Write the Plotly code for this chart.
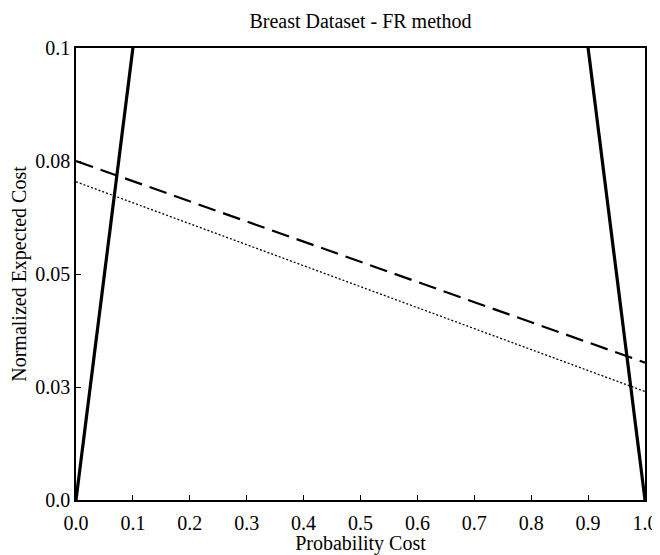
import plotly.graph_objects as go

# Data
x_trivial_pos = [0.0, 1.0]
y_trivial_pos = [0.0, 1.0]      # y = x
x_trivial_neg = [0.0, 1.0]
y_trivial_neg = [1.0, 0.0]      # y = 1 - x
x_dashed = [0.0, 1.0]
y_dashed = [0.075, 0.0304]
x_dotted = [0.0, 1.0]
y_dotted = [0.0704, 0.024]

x_ticks = [0.0, 0.1, 0.2, 0.3, 0.4, 0.5, 0.6, 0.7, 0.8, 0.9, 1.0]
x_ticktext = ["0.0", "0.1", "0.2", "0.3", "0.4", "0.5", "0.6", "0.7", "0.8", "0.9", "1.0"]
y_ticks = [0.0, 0.025, 0.05, 0.075, 0.1]
y_ticktext = ["0.0", "0.03", "0.05", "0.08", "0.1"]

font_family = "Liberation Serif"

fig = go.Figure()
fig.add_trace(go.Scatter(x=x_trivial_pos, y=y_trivial_pos, mode="lines",
                         line=dict(color="black", width=3.2), showlegend=False))
fig.add_trace(go.Scatter(x=x_trivial_neg, y=y_trivial_neg, mode="lines",
                         line=dict(color="black", width=3.2), showlegend=False))
fig.add_trace(go.Scatter(x=x_dashed, y=y_dashed, mode="lines",
                         line=dict(color="black", width=2.2, dash="18px,8px"), showlegend=False))
fig.add_trace(go.Scatter(x=x_dotted, y=y_dotted, mode="lines",
                         line=dict(color="black", width=1.3, dash="2px,2px"), showlegend=False))

fig.update_layout(
    width=652, height=547,
    paper_bgcolor="white", plot_bgcolor="white",
    margin=dict(l=68, r=15, t=40, b=55, autoexpand=False),
    font=dict(family=font_family, size=20, color="black"),
    title=dict(text="Breast Dataset - FR method", x=0.5, xref="paper", xanchor="center",
               y=1 - 13 / 547, yanchor="middle", font=dict(size=20, family=font_family)),
)
fig.update_xaxes(range=[0, 1], tickvals=x_ticks, ticktext=x_ticktext,
                 showgrid=False, zeroline=False, showline=True, linecolor="black", linewidth=1.5,
                 mirror=True, ticks="inside", ticklen=5, tickcolor="black",
                 ticklabelstandoff=4,
                 title=dict(text="Probability Cost", standoff=4, font=dict(size=20)),
                 tickfont=dict(size=20))
fig.update_yaxes(range=[0, 0.1], tickvals=y_ticks, ticktext=y_ticktext,
                 showgrid=False, zeroline=False, showline=True, linecolor="black", linewidth=1.5,
                 mirror=True, ticks="inside", ticklen=5, tickcolor="black",
                 title=dict(text="Normalized Expected Cost", standoff=4, font=dict(size=20)),
                 tickfont=dict(size=20))

fig.write_html("out.html")
